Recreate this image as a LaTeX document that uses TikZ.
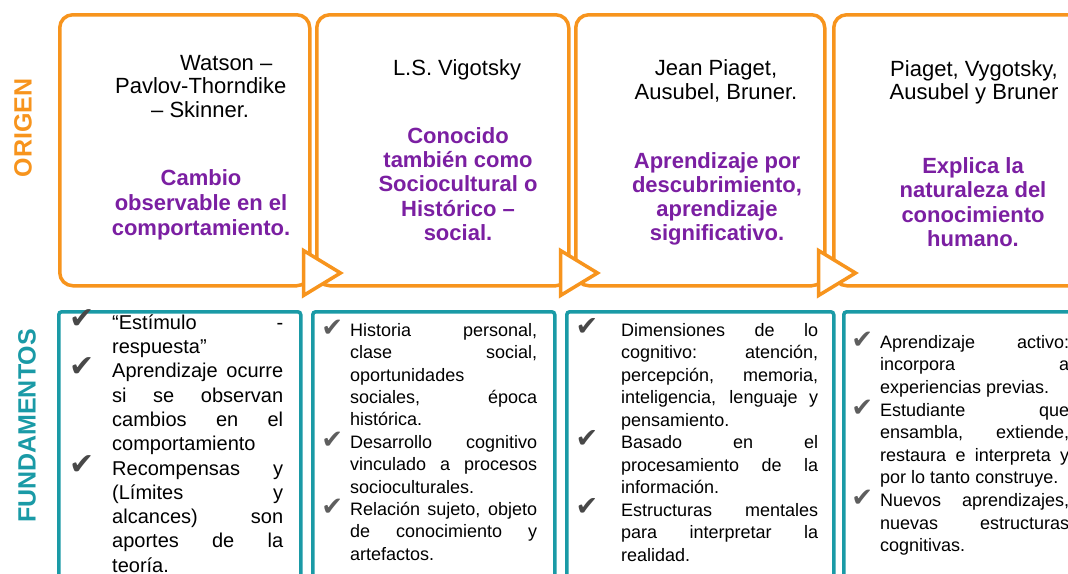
\documentclass[tikz,border=0pt]{standalone}
\usepackage{fontspec}
\setmainfont{Liberation Sans}
\newfontfamily\symf{DejaVu Sans}
\definecolor{org}{HTML}{F7941D}
\definecolor{tea}{HTML}{1A9AA6}
\definecolor{pur}{HTML}{7B1FA2}
\definecolor{chkd}{HTML}{484848}
\definecolor{chkl}{HTML}{5E5E5E}
\newcommand\ck[4]{\llap{\smash{\raisebox{#3}{\symf\fontsize{#4}{#4}\selectfont\color{#1}✔}}\hspace{#2}}}
\newcommand\jl[2]{\makebox[#1][s]{#2}}
\begin{document}
\begin{tikzpicture}[x=1pt,y=-1pt,
  obox/.style={draw=org,line width=3.5pt,rounded corners=13pt,fill=white,inner sep=0pt,anchor=north west,minimum height=271pt},
  tbox/.style={draw=tea,line width=3.5pt,rounded corners=3pt,inner sep=0pt,anchor=north west,minimum height=300pt},
  tri/.style={draw=org,line width=3.5pt,fill=white,line join=miter},
  btxt/.style={font=\fontsize{22}{#1}\selectfont,inner sep=0pt,anchor=north,align=center,text=black},
  ptxt/.style={font=\fontsize{22}{#1}\selectfont\bfseries,inner sep=0pt,anchor=north,align=center,text=pur},
  ftxt/.style 2 args={font=\fontsize{#1}{#2}\selectfont,inner sep=0pt,anchor=north west,align=left,text=black},
  lbl/.style={rotate=90,font=\fontsize{25}{30}\selectfont\bfseries,inner sep=0pt}]
\useasboundingbox (0,0) rectangle (1068,573);
\clip (0,0) rectangle (1068,573);
% side labels
\node[lbl,text=org] (lorigen) at (23,128) {ORIGEN};
\node[lbl,text=tea] (lfund) at (27,426) {FUNDAMENTOS};
% top boxes
\node[obox,minimum width=250pt] (o1) at (58,13) {};
\node[obox,minimum width=252pt] (o2) at (315,13) {};
\node[obox,minimum width=249pt] (o3) at (574,13) {};
\node[obox,minimum width=252pt] (o4) at (832,13) {};
% arrows between boxes
\draw[tri] ([shift={(-8,-37)}]o1.south east) -- ++(0,45) -- ++(37,-22.5) -- cycle;
\draw[tri] ([shift={(-10,-37)}]o2.south east) -- ++(0,45) -- ++(37,-22.5) -- cycle;
\draw[tri] ([shift={(-8,-37)}]o3.south east) -- ++(0,45) -- ++(37,-22.5) -- cycle;
% bottom boxes
\node[tbox,minimum width=242pt] (t1) at (57,310) {};
\node[tbox,minimum width=242pt] (t2) at (311,310) {};
\node[tbox,minimum width=267pt] (t3) at (565,310) {};
\node[tbox,minimum width=250pt] (t4) at (842,310) {};
% top texts
\node[btxt=23.5,anchor=north west,align=left] (a1) at (115,50)
  {\rule{0pt}{20pt}\hspace*{65pt}Watson –\\Pavlov-Thorndike\\\hspace*{36pt}– Skinner.};
\node[ptxt=25] (b1) at (201,165)
  {\rule{0pt}{20pt}Cambio\\observable en el\\comportamiento.};
\node[btxt=24] (a2) at (457,55) {\rule{0pt}{20pt}L.S. Vigotsky};
\node[ptxt=24.3] (b2) at (458,123)
  {\rule{0pt}{20pt}Conocido\\también como\\Sociocultural o\\Histórico –\\social.};
\node[btxt=24] (a3) at (716,55) {\rule{0pt}{20pt}Jean Piaget,\\Ausubel, Bruner.};
\node[ptxt=24] (b3) at (717,148)
  {\rule{0pt}{20pt}Aprendizaje por\\descubrimiento,\\aprendizaje\\significativo.};
\node[btxt=23.5] (a4) at (974,56) {\rule{0pt}{20pt}Piaget, Vygotsky,\\Ausubel y Bruner};
\node[ptxt=24.5] (b4) at (973,153)
  {\rule{0pt}{20pt}Explica la\\naturaleza del\\conocimiento\\humano.};
% bottom texts
\node[ftxt={20}{24.3}] (f1) at (112,313)
  {\rule{0pt}{16pt}\ck{chkd}{18pt}{1pt}{30}\jl{171pt}{“Estímulo -}\\
   respuesta”\\
   \ck{chkd}{18pt}{1pt}{30}\jl{171pt}{Aprendizaje ocurre}\\
   \jl{171pt}{si se observan}\\
   \jl{171pt}{cambios en el}\\
   comportamiento\\
   \ck{chkd}{18pt}{1pt}{30}\jl{171pt}{Recompensas y}\\
   \jl{171pt}{(Límites y}\\
   \jl{171pt}{alcances) son}\\
   \jl{171pt}{aportes de la}\\
   teoría.};
\node[ftxt={18}{22.4}] (f2) at (350,321)
  {\rule{0pt}{15pt}\ck{chkl}{7pt}{0pt}{26}\jl{187pt}{Historia personal,}\\
   \jl{187pt}{clase social,}\\
   oportunidades\\
   \jl{187pt}{sociales, época}\\
   histórica.\\
   \ck{chkl}{7pt}{0pt}{26}\jl{187pt}{Desarrollo cognitivo}\\
   \jl{187pt}{vinculado a procesos}\\
   socioculturales.\\
   \ck{chkl}{7pt}{0pt}{26}\jl{187pt}{Relación sujeto, objeto}\\
   \jl{187pt}{de conocimiento y}\\
   artefactos.};
\node[ftxt={18}{22.5}] (f3) at (621,321)
  {\rule{0pt}{15pt}\ck{chkd}{23pt}{1pt}{27}\jl{197pt}{Dimensiones de lo}\\
   \jl{197pt}{cognitivo: atención,}\\
   \jl{197pt}{percepción, memoria,}\\
   \jl{197pt}{inteligencia, lenguaje y}\\
   pensamiento.\\
   \ck{chkd}{23pt}{1pt}{27}\jl{197pt}{Basado en el}\\
   \jl{197pt}{procesamiento de la}\\
   información.\\
   \ck{chkd}{23pt}{1pt}{27}\jl{197pt}{Estructuras mentales}\\
   \jl{197pt}{para interpretar la}\\
   realidad.};
\node[ftxt={18}{22.6}] (f4) at (880,333)
  {\rule{0pt}{15pt}\ck{chkl}{7pt}{0pt}{26}\jl{189pt}{Aprendizaje activo:}\\
   \jl{189pt}{incorpora a}\\
   experiencias previas.\\
   \ck{chkl}{7pt}{0pt}{26}\jl{189pt}{Estudiante que}\\
   \jl{189pt}{ensambla, extiende,}\\
   \jl{189pt}{restaura e interpreta y}\\
   por lo tanto construye.\\
   \ck{chkl}{7pt}{0pt}{26}\jl{189pt}{Nuevos aprendizajes,}\\
   \jl{189pt}{nuevas estructuras}\\
   cognitivas.};
\end{tikzpicture}
\end{document}
